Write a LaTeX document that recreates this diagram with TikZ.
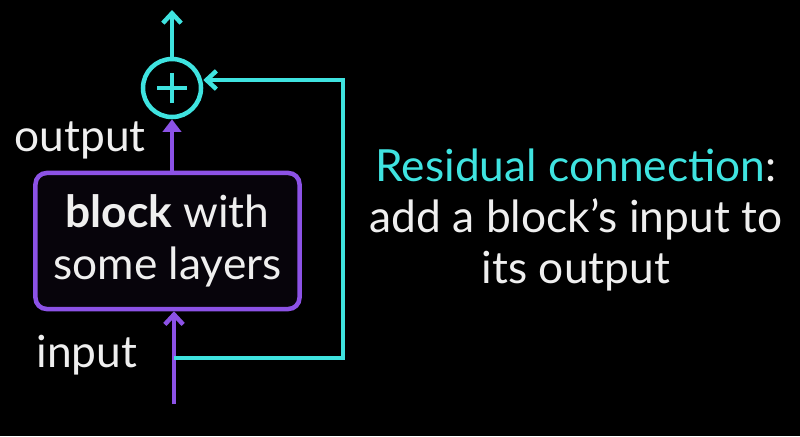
\documentclass[tikz,border=0pt]{standalone}
\usepackage{fontspec}
\setmainfont{Lato}
\usetikzlibrary{arrows.meta}
\definecolor{resid}{HTML}{3FE3E0}
\definecolor{blockc}{HTML}{8C52E6}
\definecolor{txt}{HTML}{EFEFEF}
\tikzset{
  lbl/.style={text=txt, inner sep=0pt, font=\fontsize{31.5}{36}\selectfont},
  blockbox/.style={draw=blockc, fill=black!95!blockc, rounded corners=8pt,
    minimum width=6.6cm, minimum height=3.4cm, align=center, lbl},
  sumnode/.style={circle, draw=resid, minimum size=1.45cm, inner sep=0pt},
  resline/.style={draw=resid, -{Straight Barb[length=7pt,width=13pt]}},
  blkline/.style={draw=blockc}
}
\begin{document}
\begin{tikzpicture}[x=0.025cm, y=-0.025cm, line width=3.2pt]
  \fill[black] (0,0) rectangle (800,436);
  \useasboundingbox (0,0) rectangle (800,436);

  \node[sumnode, line width=3.2pt] (sum) at (172,88) {};
  \node[blockbox, line width=3.2pt] (block) at (167.5,241) {\textbf{block} with\\[1pt]some layers};
  \coordinate (top) at (172,10);
  \coordinate (in) at (174,404);
  \coordinate (split) at (174,358);
  \coordinate (rc1) at (343,358);
  \coordinate (rc2) at (343,80);

  \node[lbl] (outlbl) at (80,140) {output};
  \node[lbl] (inlbl) at (87,355) {input};
  \node[lbl, align=center] (caption) at (576,220)
    {{\color{resid}Residual connection}:\\add a block’s input to\\its output};

  % plus sign
  \draw[resid] ([xshift=-0.37cm]sum.center) -- ([xshift=0.37cm]sum.center);
  \draw[resid] ([yshift=-0.37cm]sum.center) -- ([yshift=0.37cm]sum.center);

  \draw[resline] (sum) -- (top);
  \draw[blkline, -{Straight Barb[length=7pt,width=13pt]}] (in) -- (in |- block.south);
  \draw[blkline, -{Triangle[length=9pt,width=13pt]}] (block.north -| sum) -- (sum.south);
  \draw[resline] (split) -- (rc1) -- (rc2) -- (rc2 -| sum.east);
\end{tikzpicture}
\end{document}
